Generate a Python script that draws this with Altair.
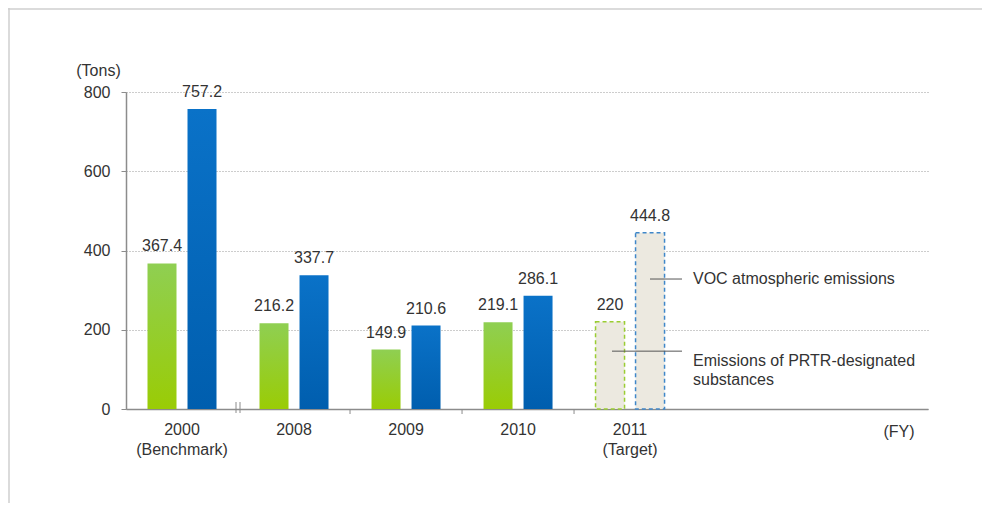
import altair as alt
import pandas as pd

# ---- data ----
categories = ["2000\n(Benchmark)", "2008", "2009", "2010", "2011\n(Target)"]
spacer_categories = ["s1", "s2"]
series_names = ["PRTR", "VOC"]
prtr_values = [367.4, 216.2, 149.9, 219.1, 220]
voc_values = [757.2, 337.7, 210.6, 286.1, 444.8]
is_target = [False, False, False, False, True]
tick_categories = ["2009", "2010", "2011\n(Target)"]
break_category = ["2008"]
callouts_text = ["VOC atmospheric emissions", "Emissions of PRTR-designated\nsubstances"]
callouts_value = [328, 122]
leader_value = [328, 146]

rows = []
for c, p, v, t in zip(categories, prtr_values, voc_values, is_target):
    rows.append({"cat": c, "series": "PRTR", "value": p, "target": t, "label": f"{p:g}"})
    rows.append({"cat": c, "series": "VOC", "value": v, "target": t, "label": f"{v:g}"})
df = pd.DataFrame(rows)

FONT = "Liberation Sans"
TXT = "#333333"
W, H = 802, 317

domain_all = categories + spacer_categories
x_enc = alt.X(
    "cat:N",
    sort=domain_all,
    scale=alt.Scale(domain=domain_all, paddingInner=0, paddingOuter=0.08, align=0),
    axis=alt.Axis(
        title=None,
        labelAngle=0,
        labelExpr="indexof(['s1','s2'], datum.value) >= 0 ? '' : split(datum.value, '\\n')",
        labelFont=FONT,
        labelFontSize=16,
        labelColor=TXT,
        labelLineHeight=20,
        labelPadding=12,
        ticks=False,
        domainColor="#8c8c8c",
        domainWidth=1.5,
        grid=False,
    ),
)
xoff_enc = alt.XOffset(
    "series:N",
    sort=series_names,
    scale=alt.Scale(domain=series_names, paddingInner=0.275, paddingOuter=0.5375),
)
y_scale = alt.Scale(domain=[0, 800], nice=False)
y_enc = alt.Y(
    "value:Q",
    scale=y_scale,
    axis=alt.Axis(
        title="(Tons)",
        titleAngle=0,
        titleX=-28,
        titleY=-17,
        titleAlign="center",
        titleBaseline="alphabetic",
        titleFont=FONT,
        titleFontSize=16,
        titleFontWeight="normal",
        titleColor=TXT,
        values=[0, 200, 400, 600, 800],
        labelFont=FONT,
        labelFontSize=16,
        labelColor=TXT,
        labelPadding=11,
        tickSize=5,
        tickColor="#8c8c8c",
        domainColor="#8c8c8c",
        domainWidth=1.5,
        grid=True,
        gridColor="#9a9a9a",
        gridDash=[1, 2],
        gridWidth=1,
    ),
)

base = alt.Chart(df)

green_grad = alt.Gradient(
    gradient="linear",
    stops=[alt.GradientStop(color="#8fcf52", offset=0), alt.GradientStop(color="#9acc05", offset=1)],
    x1=0, x2=0, y1=0, y2=1,
)
blue_grad = alt.Gradient(
    gradient="linear",
    stops=[alt.GradientStop(color="#0a72c8", offset=0), alt.GradientStop(color="#005eae", offset=1)],
    x1=0, x2=0, y1=0, y2=1,
)

green_bars = base.transform_filter("!datum.target && datum.series == 'PRTR'").mark_bar(
    fill=green_grad
).encode(x=x_enc, xOffset=xoff_enc, y=y_enc)
blue_bars = base.transform_filter("!datum.target && datum.series == 'VOC'").mark_bar(
    fill=blue_grad
).encode(x=x_enc, xOffset=xoff_enc, y=y_enc)
target_bars = base.transform_filter("datum.target").mark_bar(
    fill="#ece9e0", strokeDash=[4, 3], strokeWidth=1.5
).encode(
    x=x_enc,
    xOffset=xoff_enc,
    y=y_enc,
    stroke=alt.Stroke(
        "series:N",
        scale=alt.Scale(domain=series_names, range=["#9acd32", "#3f87c9"]),
        legend=None,
    ),
)
value_labels = base.mark_text(
    dy=-12, baseline="alphabetic", font=FONT, fontSize=16, color=TXT
).encode(x=x_enc, xOffset=xoff_enc, y=y_enc, text="label:N")

# x-axis ticks at band starts
ticks_df = pd.DataFrame({"cat": tick_categories})
x_ticks = alt.Chart(ticks_df).mark_rule(color="#8c8c8c", strokeWidth=1).encode(
    x=alt.X("cat:N", bandPosition=0, sort=domain_all, scale=alt.Scale(domain=domain_all)),
    y=alt.value(H),
    y2=alt.value(H + 5),
)
break_df = pd.DataFrame({"cat": break_category})
break_l = alt.Chart(break_df).mark_rule(color="#8c8c8c", strokeWidth=1, xOffset=-2).encode(
    x=alt.X("cat:N", bandPosition=0, sort=domain_all, scale=alt.Scale(domain=domain_all)),
    y=alt.value(H - 7),
    y2=alt.value(H + 4),
)
break_r = alt.Chart(break_df).mark_rule(color="#8c8c8c", strokeWidth=1, xOffset=2).encode(
    x=alt.X("cat:N", bandPosition=0, sort=domain_all, scale=alt.Scale(domain=domain_all)),
    y=alt.value(H - 7),
    y2=alt.value(H + 4),
)

# (FY)
fy = alt.Chart(pd.DataFrame({"t": ["(FY)"]})).mark_text(
    font=FONT, fontSize=16, color=TXT, baseline="middle", align="center"
).encode(text="t:N", x=alt.value(773), y=alt.value(340))

# callouts
call_df = pd.DataFrame({
    "t": [s.split("\n") for s in callouts_text],
    "v": callouts_value,
})
call_text = alt.Chart(call_df).mark_text(
    font=FONT, fontSize=16, color=TXT, align="left", baseline="middle", lineHeight=19
).encode(text="t", x=alt.value(567), y=alt.Y("v:Q", scale=y_scale))

lead_df = pd.DataFrame({"v": leader_value, "x0": [524, 486]})
leaders = alt.Chart(lead_df).mark_rule(color="#555555", strokeWidth=1).encode(
    x=alt.X("x0:Q", scale=None),
    x2=alt.value(556),
    y=alt.Y("v:Q", scale=y_scale),
)

# outer frame (light grey)
frame_left = alt.Chart(pd.DataFrame({"a": [0]})).mark_rule(color="#cfcfcf", strokeWidth=1.5).encode(
    x=alt.value(-117), y=alt.value(-84), y2=alt.value(H + 94)
)
frame_top = alt.Chart(pd.DataFrame({"a": [0]})).mark_rule(color="#cfcfcf", strokeWidth=1.5).encode(
    x=alt.value(-118), x2=alt.value(W + 54), y=alt.value(-83)
)

chart = alt.layer(
    frame_left, frame_top,
    green_bars, blue_bars, target_bars, value_labels,
    x_ticks, break_l, break_r, fy, leaders, call_text,
).properties(
    width=W,
    height=H,
    autosize=alt.AutoSizeParams(type="none"),
    padding={"left": 118, "top": 84, "right": 54, "bottom": 94},
    background="white",
).configure_view(stroke=None)

chart.save("out.html", embed_options={"renderer": "svg", "actions": False})
